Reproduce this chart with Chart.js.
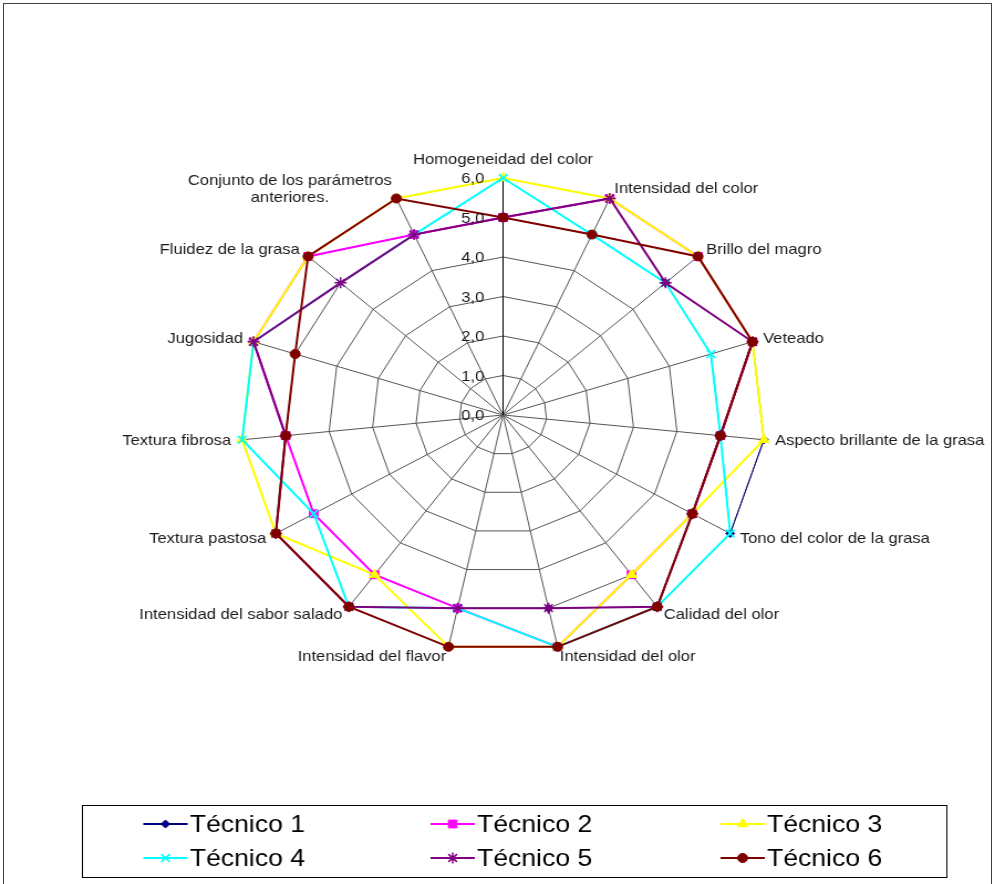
<!DOCTYPE html>
<html>
<head>
<meta charset="utf-8">
<script src="https://cdn.jsdelivr.net/npm/chart.js"></script>
<style>
  html, body { margin: 0; padding: 0; background: #fff; width: 995px; height: 884px; overflow: hidden; }
  #frame { position: absolute; left: 3px; top: 3px; width: 989px; height: 900px; border: 1px solid #404040; box-sizing: border-box; }
  #wrap { position: absolute; left: 0; top: 0; width: 899px; height: 884px; transform: scaleX(1.10679); transform-origin: 0 0; }
</style>
</head>
<body>
<div id="frame"></div>
<div id="wrap"><canvas id="c" width="899" height="884"></canvas></div>
<script>
// ---- data ----
const categories = [
  'Homogeneidad del color', 'Intensidad del color', 'Brillo del magro', 'Veteado',
  'Aspecto brillante de la grasa', 'Tono del color de la grasa', 'Calidad del olor',
  'Intensidad del olor', 'Intensidad del flavor', 'Intensidad del sabor salado',
  'Textura pastosa', 'Textura fibrosa', 'Jugosidad', 'Fluidez de la grasa',
  ['Conjunto de los parámetros', 'anteriores.']
];
const seriesNames = ['Técnico 1', 'Técnico 2', 'Técnico 3', 'Técnico 4', 'Técnico 5', 'Técnico 6'];
const tecnico1 = [5, 6, 5, 6, 6, 6, 6, 5, 5, 6, 6, 5, 6, 6, 5];
const tecnico2 = [5, 6, 6, 6, 5, 5, 5, 6, 5, 5, 5, 5, 6, 6, 5];
const tecnico3 = [6, 6, 6, 6, 6, 5, 5, 6, 6, 5, 6, 6, 6, 6, 6];
const tecnico4 = [6, 5, 5, 5, 5, 6, 6, 6, 5, 6, 5, 6, 6, 5, 5];
const tecnico5 = [5, 6, 5, 6, 5, 5, 6, 5, 5, 6, 6, 5, 6, 5, 5];
const tecnico6 = [5, 5, 6, 6, 5, 5, 6, 6, 6, 6, 6, 5, 5, 6, 6];
const tickLabels = ['0,0', '1,0', '2,0', '3,0', '4,0', '5,0', '6,0'];

// ---- styles ----
const seriesValues = [tecnico1, tecnico2, tecnico3, tecnico4, tecnico5, tecnico6];
const colors = ['#000080', '#FF00FF', '#FFFF00', '#00FFFF', '#800080', '#800000'];
const pointStyles = ['rectRot', 'rect', 'triangle', 'crossRot', 'star', 'circle'];
const pointRadii = [4, 5.5, 5.5, 5.5, 5.5, 4.5];
const lineWidths = [1, 2, 2, 2, 2, 2];
const FONT = '"Liberation Sans", Arial, sans-serif';
const GRID = '#555555';

// layout (canvas px, before horizontal stretch)
const CX = 454.5, CY = 415, R = 237, LABEL_GAP = 10, TICK_GAP = 17;

const datasets = seriesValues.map((vals, i) => ({
  label: seriesNames[i],
  data: vals,
  borderColor: colors[i],
  backgroundColor: colors[i],
  borderWidth: lineWidths[i],
  fill: false,
  pointStyle: pointStyles[i],
  pointRadius: pointRadii[i],
  pointHoverRadius: pointRadii[i],
  pointBackgroundColor: colors[i],
  pointBorderColor: colors[i],
  pointBorderWidth: (pointStyles[i] === 'crossRot' || pointStyles[i] === 'star') ? 1.5 : 1,
  tension: 0,
  order: seriesValues.length - 1 - i
}));

function placeScale(scale) {
  scale.xCenter = CX;
  scale.yCenter = CY;
  scale.drawingArea = R;
  const items = scale._pointLabelItems || [];
  for (let i = 0; i < items.length; i++) {
    const it = items[i];
    const w = it.right - it.left, h = it.bottom - it.top;
    const p = scale.getPointPosition(i, R + LABEL_GAP);
    const deg = Math.round(scale.getIndexAngle(i) * 180 / Math.PI) % 360;
    let left;
    if (deg === 0 || deg === 180) left = p.x - w / 2;
    else if (deg < 180) left = p.x;
    else left = p.x - w;
    const top = deg === 0 ? p.y - h : (deg === 180 ? p.y : p.y - h / 2);
    it.left = left; it.right = left + w; it.top = top; it.bottom = top + h;
    it.x = left + w / 2; it.y = top; it.textAlign = 'center';
  }
}

const tickPlugin = {
  id: 'tickText',
  afterDatasetsDraw(chart) {
    const s = chart.scales.r, ctx = chart.ctx;
    ctx.save();
    ctx.font = '15px ' + FONT;
    ctx.fillStyle = '#1a1a1a';
    ctx.textAlign = 'right';
    ctx.textBaseline = 'middle';
    s.ticks.forEach(t => {
      const d = s.getDistanceFromCenterForValue(t.value);
      ctx.fillText(t.label, s.xCenter - TICK_GAP, s.yCenter - d + 1);
    });
    ctx.restore();
  }
};

const legendPlugin = {
  id: 'boxLegend',
  afterDraw(chart) {
    const ctx = chart.ctx;
    ctx.save();
    ctx.strokeStyle = '#000';
    ctx.lineWidth = 1;
    ctx.strokeRect(74.5, 805.5, 781, 72);
    const textX = [171.5, 431, 693];
    const rowY = [824, 858];
    chart.data.datasets.forEach((ds, i) => {
      const tx = textX[i % 3], y = rowY[Math.floor(i / 3)];
      ctx.strokeStyle = ds.borderColor;
      ctx.lineWidth = Math.max(2, ds.borderWidth);
      ctx.beginPath();
      ctx.moveTo(tx - 42, y);
      ctx.lineTo(tx - 2, y);
      ctx.stroke();
      ctx.fillStyle = ds.pointBackgroundColor;
      ctx.strokeStyle = ds.pointBorderColor;
      ctx.lineWidth = ds.pointBorderWidth;
      if (Chart.helpers && Chart.helpers.drawPoint) {
        Chart.helpers.drawPoint(ctx, {pointStyle: ds.pointStyle, radius: ds.pointRadius, rotation: 0, borderWidth: ds.pointBorderWidth}, tx - 22, y);
      }
      ctx.fillStyle = '#000';
      ctx.font = '24px ' + FONT;
      ctx.textAlign = 'left';
      ctx.textBaseline = 'middle';
      ctx.fillText(ds.label, tx, y + 1);
    });
    ctx.restore();
  }
};

new Chart(document.getElementById('c'), {
  type: 'radar',
  data: { labels: categories, datasets: datasets },
  options: {
    responsive: false,
    animation: false,
    devicePixelRatio: 1,
    plugins: { legend: { display: false }, tooltip: { enabled: false } },
    elements: { line: { tension: 0 } },
    scales: {
      r: {
        min: 0,
        max: 6,
        ticks: {
          stepSize: 1,
          display: false,
          callback: (v, i) => tickLabels[i]
        },
        grid: { color: GRID, lineWidth: 1, circular: false },
        angleLines: {
          display: true,
          color: c => (c.index === 0 ? '#000000' : GRID),
          lineWidth: 1
        },
        pointLabels: {
          display: true,
          color: '#1a1a1a',
          padding: LABEL_GAP,
          font: { family: FONT, size: 15, lineHeight: 1.13 }
        },
        afterFit: placeScale
      }
    }
  },
  plugins: [tickPlugin, legendPlugin]
});
</script>
</body>
</html>
